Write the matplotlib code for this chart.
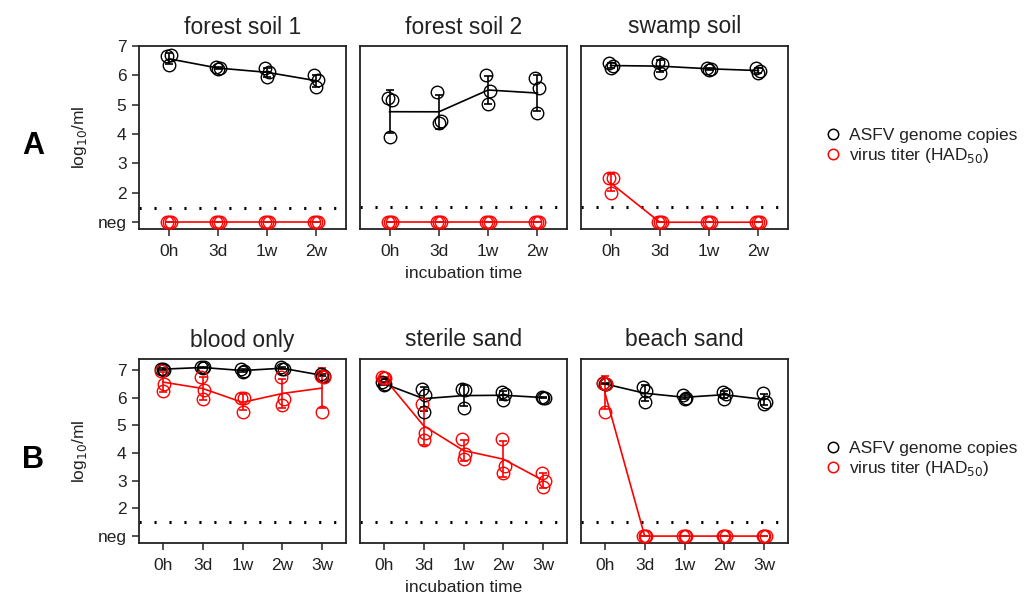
import numpy as np
import matplotlib
matplotlib.use("Agg")
import matplotlib.pyplot as plt
from matplotlib.lines import Line2D

plt.rcParams['font.family'] = ['Liberation Sans', 'DejaVu Sans']

# ---------------- data ----------------
times_a = ["0h", "3d", "1w", "2w"]
times_b = ["0h", "3d", "1w", "2w", "3w"]
NEG = 1.0
DETECTION_LIMIT = 1.5

titles_a = ["forest soil 1", "forest soil 2", "swamp soil"]
titles_b = ["blood only", "sterile sand", "beach sand"]

# genome copies (log10/ml), 3 replicates per time point
genome_forest1 = [[6.65, 6.70, 6.35], [6.30, 6.25, 6.20], [6.24, 6.12, 5.95], [6.01, 5.84, 5.60]]
genome_forest2 = [[5.20, 5.15, 3.90], [5.41, 4.45, 4.38], [5.98, 5.46, 5.02], [5.90, 5.55, 4.70]]
genome_swamp = [[6.40, 6.30, 6.25], [6.44, 6.38, 6.07], [6.24, 6.20, 6.18], [6.24, 6.13, 6.07]]
titer_forest1 = [[1.0, 1.0, 1.0], [1.0, 1.0, 1.0], [1.0, 1.0, 1.0], [1.0, 1.0, 1.0]]
titer_forest2 = [[1.0, 1.0, 1.0], [1.0, 1.0, 1.0], [1.0, 1.0, 1.0], [1.0, 1.0, 1.0]]
titer_swamp = [[2.50, 2.50, 2.00], [1.0, 1.0, 1.0], [1.0, 1.0, 1.0], [1.0, 1.0, 1.0]]

genome_blood = [[7.05, 7.00, 7.05], [7.10, 7.10, 7.08], [7.05, 6.98, 6.92], [7.10, 7.05, 7.05], [6.85, 6.80, 6.78]]
genome_sterile = [[6.57, 6.51, 6.45], [6.33, 6.09, 5.48], [6.33, 6.27, 5.63], [6.21, 6.15, 5.91], [6.02, 6.00, 6.00]]
genome_beach = [[6.52, 6.50, 6.48], [6.39, 6.25, 5.85], [6.09, 6.00, 5.96], [6.21, 6.15, 5.97], [6.17, 5.85, 5.79]]
titer_blood = [[6.95, 6.50, 6.25], [6.76, 6.27, 5.97], [6.00, 6.00, 5.50], [6.76, 5.97, 5.73], [6.80, 6.75, 5.50]]
titer_sterile = [[6.75, 6.72, 6.70], [5.76, 4.72, 4.48], [4.52, 3.97, 3.79], [4.52, 3.55, 3.27], [3.28, 3.00, 2.76]]
titer_beach = [[6.55, 6.50, 5.50], [1.0, 1.0, 1.0], [1.0, 1.0, 1.0], [1.0, 1.0, 1.0], [1.0, 1.0, 1.0]]

ytick_vals = [1, 2, 3, 4, 5, 6, 7]
ytick_labels = ["neg", "2", "3", "4", "5", "6", "7"]

genome_a = [genome_forest1, genome_forest2, genome_swamp]
titer_a = [titer_forest1, titer_forest2, titer_swamp]
genome_b = [genome_blood, genome_sterile, genome_beach]
titer_b = [titer_blood, titer_sterile, titer_beach]

# ---------------- layout ----------------
W, H = 1028, 598
fig = plt.figure(figsize=(W / 100, H / 100), dpi=100)

lefts = [139, 360, 581]
aw = 207
rows = [(46, 229), (359, 543)]

RED = "#FF0000"
offsets = [-0.04, 0.04, 0.0]


def draw_series(ax, data, color):
    arr = np.array(data)
    x = np.arange(1, arr.shape[0] + 1)
    for j in range(arr.shape[1]):
        ax.plot(x + offsets[j], arr[:, j], linestyle='none', marker='o', ms=9,
                mfc='none', mec=color, mew=1.0, zorder=3)
    means = arr.mean(axis=1)
    sds = arr.std(axis=1, ddof=1)
    ax.errorbar(x, means, yerr=sds, color=color, lw=1.2, capsize=3,
                capthick=1.2, elinewidth=1.2, zorder=2)


def make_row(row_idx, titles, genomes, titers, times, ylim):
    top, bot = rows[row_idx]
    axes = []
    for i in range(3):
        ax = fig.add_axes([lefts[i] / W, 1 - bot / H, aw / W, (bot - top) / H])
        draw_series(ax, genomes[i], 'black')
        draw_series(ax, titers[i], RED)
        ax.axhline(DETECTION_LIMIT, color='black', lw=2.2, linestyle=(0, (0.7, 4.2)), zorder=1)
        n = len(times)
        ax.set_xlim(0.4, n + 0.6)
        ax.set_ylim(*ylim)
        ax.set_xticks(np.arange(1, n + 1))
        ax.set_xticklabels(times, fontsize=12.5, color='#222222')
        ax.set_title(titles[i], fontsize=16.5, color='#222222', pad=9)
        for s in ax.spines.values():
            s.set_linewidth(1.3)
            s.set_color('#222222')
        ax.tick_params(axis='x', length=5, width=1.3, color='#444444', pad=6)
        if i == 0:
            ax.set_yticks(ytick_vals)
            ax.set_yticklabels(ytick_labels, fontsize=12.5, color='#222222')
            ax.tick_params(axis='y', length=5, width=1.3, color='#444444', pad=4)
        else:
            ax.set_yticks([])
        axes.append(ax)
    axes[0].set_ylabel("log$_{10}$/ml", fontsize=12.5, color='#222222', labelpad=6)
    axes[1].set_xlabel("incubation time", fontsize=12.5, color='#222222', labelpad=5)
    return axes


axA = make_row(0, titles_a, genome_a, titer_a, times_a, (0.77, 6.98))
axB = make_row(1, titles_b, genome_b, titer_b, times_b, (0.75, 7.40))

fig.text(22 / W, 1 - 146 / H, "A", fontsize=22, fontweight='bold', va='center', ha='left')
fig.text(22 / W, 1 - 460 / H, "B", fontsize=22, fontweight='bold', va='center', ha='left')

handles = [Line2D([], [], linestyle='none', marker='o', ms=7.5, mfc='none', mec='black', mew=1.1),
           Line2D([], [], linestyle='none', marker='o', ms=7.5, mfc='none', mec=RED, mew=1.1)]
labels = ["ASFV genome copies", "virus titer (HAD$_{50}$)"]
for ytop in (128, 441):
    fig.legend(handles, labels, loc='upper left', bbox_to_anchor=(826 / W, 1 - ytop / H),
               frameon=False, fontsize=12.5, handlelength=0.8, handletextpad=0.5,
               labelspacing=0.15, borderpad=0, borderaxespad=0, labelcolor='#222222')

fig.savefig("out.png", dpi=100)
